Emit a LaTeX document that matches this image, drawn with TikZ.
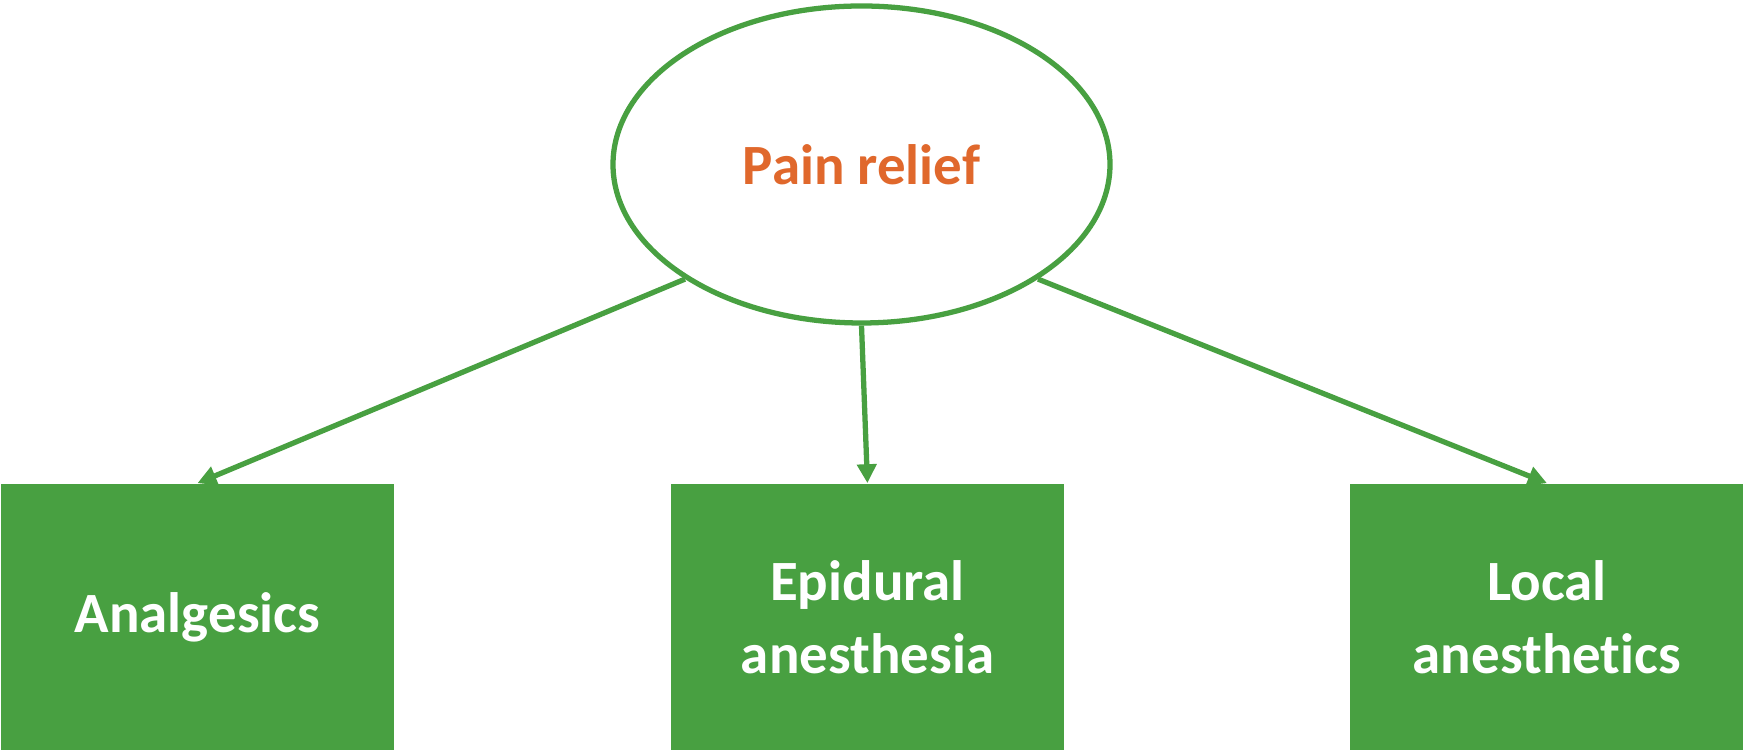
\documentclass[tikz,border=0pt]{standalone}
\usepackage{fontspec}
\setmainfont{Carlito}[Ligatures=NoCommon]
\usepackage{xcolor}
\usepackage{tikz}
\usetikzlibrary{
  positioning,
  arrows.meta,
  shapes.geometric
}
\definecolor{leafgreen}{RGB}{72,160,65}
\definecolor{reliefora}{RGB}{224,104,44}

\begin{document}
\begin{tikzpicture}[
    >={Triangle[length=5.4pt, width=5.4pt]},
    font=\fontsize{16.2}{20.6}\selectfont\bfseries,
    rootnode/.style={ellipse, draw=leafgreen, line width=1.5pt, fill=white,
        minimum width=4.97cm, minimum height=3.17cm, inner sep=0pt, text=reliefora},
    leafbox/.style={rectangle, fill=leafgreen, text=white, align=center,
        minimum width=3.935cm, minimum height=2.664cm, inner sep=0pt, anchor=south west},
    link/.style={->, draw=leafgreen, line width=1.5pt}
]
    \useasboundingbox (0,0) rectangle (17.43,7.51);

    % 顶部椭圆
    \node[rootnode] (pain) at (8.615, 5.865) {Pain relief};

    % 底部方框
    \node[leafbox] (analg) at (0, 0) {Analgesics};
    \node[leafbox] (epid) at (6.70, 0) {Epidural\\anesthesia};
    \node[leafbox] (local) at (13.495, 0) {Local\\anesthetics};

    % 连线
    \draw[link] (pain.-147.2) -- (analg.north);
    \draw[link] (pain.south) -- (epid.north);
    \draw[link] (pain.-33.1) -- (local.north);
\end{tikzpicture}
\end{document}
